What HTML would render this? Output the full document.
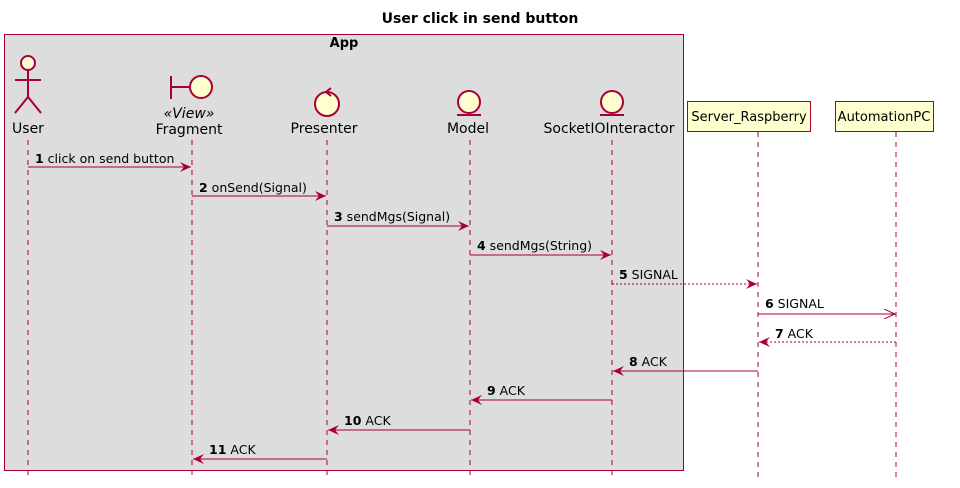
<!DOCTYPE html>
<html><head><meta charset="utf-8"><style>body{margin:0;background:#fff}svg{display:block;font-family:"DejaVu Sans","Liberation Sans",sans-serif}</style></head><body>
<svg width="960" height="488" viewBox="0 0 960 488" xmlns="http://www.w3.org/2000/svg">
<defs>
<marker id="a" markerWidth="12" markerHeight="10" refX="11" refY="5" orient="auto" markerUnits="userSpaceOnUse"><path d="M0,0 L11,5 L0,10 L4,5 Z" fill="#A80036"/></marker>
<marker id="o" markerWidth="12" markerHeight="10" refX="11" refY="5" orient="auto" markerUnits="userSpaceOnUse"><path d="M0,0 L11,5 L0,10" fill="none" stroke="#A80036"/></marker>
</defs>
<text x="480" y="23" text-anchor="middle" font-size="14" font-weight="bold">User click in send button</text>
<rect x="4.5" y="34.5" width="679" height="436" fill="#DDDDDD" stroke="#A80036"/>
<text x="344" y="47" text-anchor="middle" font-size="13" font-weight="bold">App</text>
<g stroke="#A80036" stroke-dasharray="5,5" stroke-width="1">
<line x1="28" y1="140" x2="28" y2="478"/><line x1="192" y1="140" x2="192" y2="478"/><line x1="327" y1="140" x2="327" y2="478"/><line x1="470" y1="140" x2="470" y2="478"/><line x1="612" y1="140" x2="612" y2="478"/><line x1="758" y1="132" x2="758" y2="478"/><line x1="896" y1="132" x2="896" y2="478"/>
</g>
<g fill="#FEFECE" stroke="#A80036" stroke-width="2">
<circle cx="28" cy="63" r="7"/><line x1="28" y1="70" x2="28" y2="97"/><line x1="15" y1="80" x2="41" y2="80"/><polyline fill="none" points="15,113 28,97 41,113"/>
<line x1="171" y1="76" x2="171" y2="99"/><line x1="171" y1="87" x2="190" y2="87"/><circle cx="201" cy="87" r="11"/>
<circle cx="327" cy="104" r="12"/>
<circle cx="469" cy="102" r="11"/><line x1="457" y1="115" x2="481" y2="115"/>
<circle cx="612" cy="102" r="11"/><line x1="600" y1="115" x2="624" y2="115"/>
</g>
<path d="M331,88 L326,92 L331,96" stroke="#A80036" stroke-width="2" fill="none"/>
<g font-size="14" text-anchor="middle" fill="#000">
<text x="28" y="133">User</text>
<text x="189" y="118" font-style="italic">«View»</text>
<text x="189" y="134">Fragment</text>
<text x="324" y="133">Presenter</text>
<text x="468" y="133">Model</text>
<text x="609" y="133">SocketIOInteractor</text>
</g>
<rect x="687.5" y="101.5" width="123" height="30" fill="#FEFECE" stroke="#A80036"/>
<rect x="835.5" y="101.5" width="98" height="30" fill="#FEFECE" stroke="#A80036"/>
<g font-size="13" text-anchor="middle" fill="#000">
<text x="749" y="121">Server_Raspberry</text>
<text x="884" y="121">AutomationPC</text>
</g>
<g stroke="#A80036" stroke-width="1" fill="none">
<line x1="28" y1="167" x2="191" y2="167" marker-end="url(#a)"/>
<line x1="192" y1="196" x2="326" y2="196" marker-end="url(#a)"/>
<line x1="327" y1="226" x2="469" y2="226" marker-end="url(#a)"/>
<line x1="470" y1="255" x2="611" y2="255" marker-end="url(#a)"/>
<line x1="612" y1="284" x2="757" y2="284" stroke-dasharray="2,2" marker-end="url(#a)"/>
<line x1="758" y1="314" x2="895" y2="314" marker-end="url(#o)"/>
<line x1="896" y1="342" x2="759" y2="342" stroke-dasharray="2,2" marker-end="url(#a)"/>
<line x1="758" y1="371" x2="613" y2="371" marker-end="url(#a)"/>
<line x1="612" y1="400" x2="471" y2="400" marker-end="url(#a)"/>
<line x1="470" y1="430" x2="328" y2="430" marker-end="url(#a)"/>
<line x1="327" y1="459" x2="193" y2="459" marker-end="url(#a)"/>
</g>
<g font-size="12.5">
<text x="35" y="163"><tspan font-weight="bold">1</tspan> click on send button</text>
<text x="199" y="192"><tspan font-weight="bold">2</tspan> onSend(Signal)</text>
<text x="334" y="221"><tspan font-weight="bold">3</tspan> sendMgs(Signal)</text>
<text x="477" y="250"><tspan font-weight="bold">4</tspan> sendMgs(String)</text>
<text x="619" y="279"><tspan font-weight="bold">5</tspan> SIGNAL</text>
<text x="765" y="308"><tspan font-weight="bold">6</tspan> SIGNAL</text>
<text x="775" y="338"><tspan font-weight="bold">7</tspan> ACK</text>
<text x="629" y="366"><tspan font-weight="bold">8</tspan> ACK</text>
<text x="487" y="395"><tspan font-weight="bold">9</tspan> ACK</text>
<text x="344" y="425"><tspan font-weight="bold">10</tspan> ACK</text>
<text x="209" y="454"><tspan font-weight="bold">11</tspan> ACK</text>
</g>
</svg>
</body></html>
